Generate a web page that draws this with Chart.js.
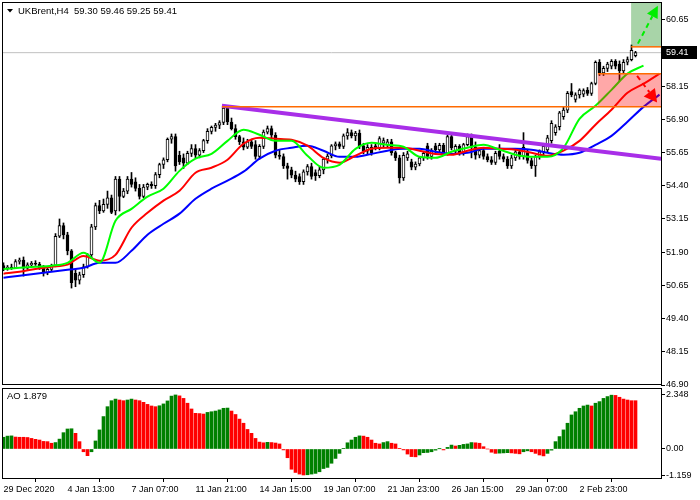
<!DOCTYPE html>
<html>
<head>
<meta charset="utf-8">
<title>UKBrent H4</title>
<script src="https://cdn.jsdelivr.net/npm/chart.js@4.4.1/dist/chart.umd.min.js"></script>
<style>
  html, body { margin: 0; padding: 0; background: #ffffff; }
  #wrap { position: relative; width: 700px; height: 500px; }
  #wrap canvas { position: absolute; left: 0; top: 0; }
</style>
</head>
<body>
<div id="wrap">
  <canvas id="priceChart" width="700" height="500"></canvas>
  <canvas id="aoChart" width="700" height="500"></canvas>
</div>
<script>
// ---- data (bar index 0 = 29 Dec 2020 00:00, H4 bars) ----
const timeLabels = ['29 Dec 2020', '4 Jan 13:00', '7 Jan 07:00', '11 Jan 21:00', '14 Jan 15:00',
  '19 Jan 07:00', '21 Jan 23:00', '26 Jan 15:00', '29 Jan 07:00', '2 Feb 23:00'];
const timeTickBars = [0, 16, 32, 48, 64, 80, 96, 112, 128, 144];

const opens = [
  51.40, 51.28, 51.34, 51.30, 51.55, 51.60, 51.30, 51.42, 51.48, 51.45,
  51.30, 51.12, 51.25, 51.40, 52.50, 52.90, 52.55, 51.95, 51.10, 50.85,
  51.05, 51.35, 51.80, 52.85, 53.65, 53.45, 53.70, 53.95, 53.45, 54.65,
  54.00, 54.20, 54.65, 54.55, 54.30, 54.00, 54.35, 54.45, 54.40, 54.82,
  55.20, 55.38, 56.15, 56.25, 55.55, 55.45, 55.25, 55.62, 55.80, 55.55,
  55.72, 56.10, 56.45, 56.60, 56.68, 56.78, 57.32, 56.80, 56.55, 56.25,
  56.05, 55.85, 56.05, 55.95, 55.50, 55.88, 56.42, 56.55, 56.30, 55.55,
  55.50, 55.15, 55.00, 54.80, 54.75, 54.55, 54.92, 55.12, 54.90, 54.78,
  55.00, 55.40, 55.52, 55.90, 55.98, 55.88, 56.28, 56.40, 56.28, 56.38,
  55.90, 55.70, 55.85, 55.90, 55.82, 56.00, 55.95, 56.05, 55.65, 55.45,
  54.70, 55.45, 55.30, 55.10, 55.22, 55.45, 55.90, 55.50, 55.90, 55.75,
  55.92, 55.60, 56.25, 55.70, 55.88, 55.65, 55.95, 56.25, 55.85, 55.55,
  55.72, 55.50, 55.38, 55.28, 55.70, 55.50, 55.40, 55.15, 55.45, 55.68,
  55.50, 55.65, 55.35, 55.15, 55.50, 55.68, 55.75, 56.10, 56.40, 56.62,
  57.00, 57.25, 57.95, 57.65, 57.82, 57.85, 58.00, 57.88, 58.25, 59.05,
  58.65, 58.82, 58.90, 59.08, 58.98, 58.72, 59.05, 59.15, 59.30
];
const highs = [
  51.50, 51.40, 51.45, 51.62, 51.68, 51.72, 51.50, 51.55, 51.58, 51.52,
  51.40, 51.30, 51.45, 52.60, 53.15, 53.00, 52.65, 52.00, 51.25, 51.15,
  51.45, 51.85, 52.95, 53.75, 53.85, 53.90, 54.20, 54.05, 54.75, 54.75,
  54.30, 54.75, 54.90, 54.70, 54.45, 54.45, 54.50, 54.55, 54.90, 55.25,
  55.45, 56.20, 56.35, 56.35, 55.70, 55.60, 55.70, 55.95, 55.95, 55.80,
  56.15, 56.55, 56.65, 56.75, 56.85, 57.40, 57.42, 56.95, 56.70, 56.30,
  56.20, 56.15, 56.15, 56.10, 55.95, 56.50, 56.65, 56.65, 56.40, 55.75,
  55.60, 55.25, 55.10, 54.95, 54.85, 55.00, 55.20, 55.25, 55.00, 55.10,
  55.45, 55.60, 55.95, 56.05, 56.05, 56.35, 56.55, 56.50, 56.45, 56.50,
  56.00, 55.95, 55.95, 56.00, 56.25, 56.20, 56.15, 56.15, 55.70, 55.55,
  55.65, 55.70, 55.40, 55.30, 55.50, 55.70, 56.00, 55.80, 56.00, 56.00,
  56.00, 56.30, 56.35, 55.95, 55.95, 56.00, 56.35, 56.35, 56.05, 55.80,
  55.80, 55.60, 55.50, 55.70, 55.95, 55.60, 55.50, 55.55, 55.75, 55.75,
  56.40, 55.75, 55.45, 55.55, 55.75, 55.95, 56.30, 56.85, 56.70, 57.20,
  57.35, 57.95, 58.25, 57.90, 58.05, 58.05, 58.10, 58.30, 59.10, 59.15,
  58.90, 59.05, 59.15, 59.15, 59.10, 59.15, 59.25, 59.70, 59.46
];
const lows = [
  51.20, 51.22, 51.25, 51.28, 51.45, 51.00, 51.25, 51.35, 51.40, 51.25,
  51.00, 51.05, 51.20, 51.35, 52.45, 52.40, 51.80, 50.55, 50.60, 50.70,
  50.95, 51.30, 51.70, 52.75, 53.35, 53.40, 53.55, 53.35, 53.30, 53.45,
  53.95, 54.10, 54.35, 54.20, 53.90, 53.95, 54.25, 54.30, 54.30, 54.70,
  55.05, 55.30, 56.00, 54.95, 55.20, 55.05, 55.20, 55.50, 55.45, 55.45,
  55.65, 56.00, 56.35, 56.45, 56.55, 56.70, 56.70, 56.50, 56.15, 55.95,
  55.75, 55.80, 55.80, 55.40, 55.40, 55.80, 56.35, 56.20, 55.45, 55.40,
  55.05, 54.65, 54.70, 54.55, 54.45, 54.45, 54.80, 54.65, 54.60, 54.70,
  54.85, 55.25, 55.45, 55.75, 55.80, 55.80, 56.15, 56.20, 56.10, 55.80,
  55.60, 55.60, 55.55, 55.75, 55.75, 55.85, 55.85, 55.55, 55.35, 54.50,
  54.60, 55.35, 55.00, 55.00, 55.15, 55.35, 55.40, 55.40, 55.65, 55.65,
  55.55, 55.55, 55.75, 55.60, 55.55, 55.55, 55.90, 55.45, 55.40, 55.45,
  55.40, 55.30, 55.20, 55.20, 55.40, 55.30, 55.05, 55.05, 55.35, 55.40,
  55.40, 55.25, 55.05, 54.75, 55.40, 55.55, 55.65, 56.00, 56.30, 56.50,
  56.90, 57.15, 57.75, 57.55, 57.70, 57.75, 57.80, 57.80, 58.20, 58.55,
  58.55, 58.70, 58.80, 58.80, 58.35, 58.65, 58.95, 59.10, 59.25
];
const closes = [
  51.28, 51.34, 51.30, 51.55, 51.60, 51.30, 51.42, 51.48, 51.45, 51.30,
  51.12, 51.25, 51.40, 52.50, 52.90, 52.55, 51.95, 50.75, 50.85, 51.05,
  51.35, 51.80, 52.85, 53.65, 53.45, 53.70, 53.95, 53.40, 54.65, 54.00,
  54.20, 54.65, 54.45, 54.30, 54.00, 54.35, 54.45, 54.40, 54.82, 55.20,
  55.38, 56.15, 56.25, 55.15, 55.30, 55.25, 55.62, 55.80, 55.55, 55.72,
  56.10, 56.45, 56.60, 56.68, 56.78, 57.32, 56.80, 56.55, 56.25, 56.05,
  55.85, 56.05, 55.88, 55.50, 55.88, 56.42, 56.55, 56.30, 55.55, 55.50,
  55.15, 55.05, 54.80, 54.65, 54.55, 54.92, 55.12, 54.75, 54.78, 55.00,
  55.40, 55.52, 55.90, 55.98, 55.88, 56.28, 56.40, 56.28, 56.38, 55.90,
  55.70, 55.85, 55.65, 55.82, 56.18, 56.10, 56.05, 55.65, 55.45, 54.70,
  55.55, 55.60, 55.10, 55.22, 55.45, 55.62, 55.50, 55.72, 55.75, 55.92,
  55.60, 56.25, 55.82, 55.88, 55.65, 55.95, 56.25, 55.85, 55.55, 55.72,
  55.50, 55.38, 55.28, 55.62, 55.50, 55.40, 55.15, 55.45, 55.68, 55.50,
  55.85, 55.35, 55.15, 55.50, 55.68, 55.88, 56.20, 56.75, 56.62, 57.15,
  57.25, 57.88, 57.82, 57.82, 58.00, 57.98, 57.88, 58.25, 59.05, 58.65,
  58.82, 58.98, 59.08, 58.90, 58.72, 59.05, 59.15, 59.50, 59.41
];

// Alligator lines, read every 4 bars
const maBars = [0, 4, 8, 12, 16, 20, 24, 28, 32, 36, 40, 44, 48, 52, 56, 60, 64, 68, 72, 76, 80,
  84, 88, 92, 96, 100, 104, 108, 112, 116, 120, 124, 128, 132, 136, 140, 144, 148, 152, 156, 160, 164];
const lips = [51.27, 51.31, 51.35, 51.39, 51.50, 51.88, 51.50, 53.08, 53.53, 53.99, 54.29, 54.96,
  55.42, 55.60, 56.09, 56.51, 56.32, 56.09, 56.09, 55.53, 55.08, 55.19, 55.79, 56.02, 55.94, 55.87,
  55.49, 55.45, 55.68, 55.83, 55.94, 55.76, 55.57, 55.49, 55.49, 55.83, 56.92, 57.41, 58.01, 58.62, 58.92];
const teeth = [51.09, 51.16, 51.27, 51.35, 51.43, 51.76, 51.58, 51.80, 52.82, 53.38, 53.84, 54.21,
  54.89, 55.08, 55.38, 55.98, 56.21, 56.17, 56.13, 55.91, 55.45, 55.27, 55.53, 55.79, 55.83, 55.83,
  55.72, 55.60, 55.57, 55.72, 55.83, 55.79, 55.76, 55.64, 55.53, 55.72, 56.09, 56.70, 57.26, 57.90, 58.24, 58.62];
const jaw = [50.94, 51.01, 51.09, 51.16, 51.24, 51.31, 51.50, 51.50, 51.95, 52.56, 52.97, 53.35,
  53.91, 54.29, 54.59, 54.93, 55.42, 55.72, 55.83, 55.91, 55.72, 55.49, 55.49, 55.60, 55.72, 55.79,
  55.79, 55.68, 55.60, 55.64, 55.79, 55.79, 55.79, 55.76, 55.64, 55.57, 55.64, 55.94, 56.28, 56.81, 57.37, 57.83];

const aoValues = [
  0.51, 0.56, 0.57, 0.52, 0.51, 0.51, 0.50, 0.46, 0.42, 0.39,
  0.33, 0.32, 0.25, 0.28, 0.43, 0.71, 0.87, 0.88, 0.68, 0.32,
  -0.12, -0.29, -0.12, 0.35, 0.83, 1.41, 1.84, 2.10, 2.17, 2.13,
  2.10, 2.13, 2.17, 2.13, 2.10, 2.03, 1.94, 1.87, 1.84, 1.88,
  1.96, 2.09, 2.30, 2.35, 2.31, 2.20, 1.99, 1.74, 1.55, 1.54,
  1.52, 1.59, 1.62, 1.65, 1.70, 1.77, 1.78, 1.65, 1.50, 1.30,
  1.12, 0.85, 0.68, 0.46, 0.30, 0.27, 0.29, 0.28, 0.26, 0.22,
  -0.04, -0.38, -0.88, -1.02, -1.09, -1.13, -1.12, -1.09, -1.06, -0.99,
  -0.85, -0.80, -0.62, -0.41, -0.19, 0.03, 0.27, 0.39, 0.51, 0.57,
  0.56, 0.51, 0.39, 0.25, 0.22, 0.28, 0.32, 0.25, 0.22, 0.03,
  -0.04, -0.22, -0.33, -0.34, -0.26, -0.16, -0.15, -0.12, -0.05, 0.01,
  -0.04, 0.07, 0.17, 0.13, 0.16, 0.20, 0.22, 0.28, 0.27, 0.25,
  0.10, 0.00, -0.14, -0.19, -0.18, -0.17, -0.16, -0.17, -0.19, -0.21,
  -0.12, -0.08, -0.12, -0.19, -0.26, -0.30, -0.19, -0.05, 0.32, 0.54,
  0.83, 1.12, 1.48, 1.62, 1.77, 1.87, 1.91, 1.87, 1.99, 2.06,
  2.20, 2.28, 2.34, 2.33, 2.25, 2.17, 2.13, 2.10, 2.10
];

const priceTicks = [60.65, 58.15, 56.90, 55.65, 54.40, 53.15, 51.90, 50.65, 49.40, 48.15, 46.90];
const aoTicks = [2.348, 0, -1.159];
const aoTickLabels = ['2.348', '0.00', '-1.159'];
const lastPrice = 59.41;
const symbolText = 'UKBrent,H4';
const ohlcText = '59.30 59.46 59.25 59.41';
const aoText = 'AO 1.879';

// drawn objects, in [bar, price]
const trendLine = [[54.6, 57.41], [164.4, 55.42]];
const supportLine = [[54.6, 57.37], [164.4, 57.37]];
const sellTopLine = [[148.6, 58.62], [164.4, 58.62]];
const buyBottomLine = [[156.9, 59.63], [164.4, 59.63]];
const sellBox = [[148.6, 57.37], [164.4, 58.62]];
const buyBox = [[156.9, 59.63], [164.4, 61.28]];
const upArrow = [[158.6, 59.75], [163.6, 61.18]];
const downArrow = [[158.4, 58.54], [163.4, 57.53]];

// ---- scale ranges ----
const xMin = -0.375, xMax = 164.375;
const priceMin = 46.90, priceMax = 61.28;
const aoMin = -1.261, aoMax = 2.652;

Chart.defaults.font.family = "'Liberation Sans', Arial, sans-serif";
Chart.defaults.font.size = 9;
Chart.defaults.color = '#000000';

const pts = (pairs) => pairs.map(p => ({ x: p[0], y: p[1] }));
const maPoints = (vals) => vals.map((v, k) => ({ x: maBars[k], y: v }));

const tickGrid = { display: true, drawOnChartArea: false, drawTicks: true, tickLength: 4, color: '#000000' };

function fixYAxis(scale) {
  scale.width = 39;
  scale.paddingTop = 0;
  scale.paddingBottom = 0;
}

const TREND_INDEX = 6;

function boxRect(chart, box, color) {
  const { ctx, scales: { x, y } } = chart;
  const x0 = x.getPixelForValue(box[0][0]), x1 = x.getPixelForValue(box[1][0]);
  const y0 = y.getPixelForValue(box[0][1]), y1 = y.getPixelForValue(box[1][1]);
  ctx.fillStyle = color;
  ctx.fillRect(Math.min(x0, x1), Math.min(y0, y1), Math.abs(x1 - x0), Math.abs(y1 - y0));
}

function arrow(chart, line, color, head, half) {
  const { ctx, scales: { x, y } } = chart;
  const x0 = x.getPixelForValue(line[0][0]), y0 = y.getPixelForValue(line[0][1]);
  const x1 = x.getPixelForValue(line[1][0]), y1 = y.getPixelForValue(line[1][1]);
  const a = Math.atan2(y1 - y0, x1 - x0);
  const c = Math.cos(a), s = Math.sin(a);
  ctx.strokeStyle = color;
  ctx.lineWidth = 2;
  ctx.setLineDash([5, 4]);
  ctx.beginPath();
  ctx.moveTo(x0, y0);
  ctx.lineTo(x1 - head * c, y1 - head * s);
  ctx.stroke();
  ctx.setLineDash([]);
  ctx.fillStyle = color;
  ctx.beginPath();
  ctx.moveTo(x1, y1);
  ctx.lineTo(x1 - head * c + half * s, y1 - head * s - half * c);
  ctx.lineTo(x1 - head * c - half * s, y1 - head * s + half * c);
  ctx.closePath();
  ctx.fill();
}

const boxesPlugin = {
  id: 'boxes',
  afterDatasetDraw(chart, args) {
    if (args.index !== TREND_INDEX) return;
    const { ctx, chartArea } = chart;
    ctx.save();
    ctx.beginPath();
    ctx.rect(chartArea.left, chartArea.top, chartArea.width, chartArea.height);
    ctx.clip();
    boxRect(chart, sellBox, 'rgba(255, 0, 0, 0.34)');
    boxRect(chart, buyBox, 'rgba(0, 128, 0, 0.34)');
    ctx.restore();
  },
  afterDatasetsDraw(chart) {
    const { ctx, chartArea } = chart;
    ctx.save();
    ctx.beginPath();
    ctx.rect(chartArea.left, chartArea.top, chartArea.width, chartArea.height);
    ctx.clip();
    arrow(chart, upArrow, '#00ee00', 12, 6);
    arrow(chart, downArrow, '#ff0000', 13, 7);
    ctx.restore();
  }
};

const priceFrame = {
  id: 'priceFrame',
  afterDraw(chart) {
    const { ctx, chartArea, scales: { y } } = chart;
    ctx.save();
    ctx.strokeStyle = '#000000';
    ctx.lineWidth = 1;
    ctx.strokeRect(chartArea.left + 0.5, chartArea.top - 0.5, chartArea.width, chartArea.height);
    // symbol header
    ctx.fillStyle = '#000000';
    ctx.beginPath();
    ctx.moveTo(7, 9); ctx.lineTo(13, 9); ctx.lineTo(10, 12.5);
    ctx.closePath();
    ctx.fill();
    ctx.font = "9.5px 'Liberation Sans', Arial, sans-serif";
    ctx.textBaseline = 'middle';
    ctx.textAlign = 'left';
    ctx.fillText(symbolText, 18, 11);
    ctx.fillText(ohlcText, 74, 11);
    // last price label on the axis
    const py = Math.round(y.getPixelForValue(lastPrice));
    ctx.fillStyle = '#000000';
    ctx.fillRect(chartArea.right + 1, py - 7, 35, 13);
    ctx.fillStyle = '#ffffff';
    ctx.font = "9px 'Liberation Sans', Arial, sans-serif";
    ctx.fillText(lastPrice.toFixed(2), chartArea.right + 5, py);
    ctx.restore();
  }
};

const wickData = highs.map((h, i) => ({ x: i, y: [lows[i], h] }));
const bodyData = opens.map((o, i) => ({ x: i, y: [o, closes[i]] }));
const bodyColors = opens.map((o, i) => (closes[i] >= o ? '#ffffff' : '#000000'));

new Chart(document.getElementById('priceChart'), {
  type: 'bar',
  data: {
    datasets: [
      { type: 'line', data: pts([[xMin, lastPrice], [xMax, lastPrice]]), borderColor: '#c0c0c0',
        borderWidth: 1, pointRadius: 0, order: 9 },
      { type: 'bar', data: wickData, backgroundColor: '#000000', barThickness: 1, grouped: false, order: 8 },
      { type: 'bar', data: bodyData, backgroundColor: bodyColors, borderColor: '#000000', borderWidth: 1,
        borderSkipped: false, barThickness: 3, grouped: false, order: 7 },
      { type: 'line', data: maPoints(jaw), borderColor: '#0000ff', borderWidth: 2, pointRadius: 0,
        cubicInterpolationMode: 'monotone', order: 6 },
      { type: 'line', data: maPoints(teeth), borderColor: '#ff0000', borderWidth: 2, pointRadius: 0,
        cubicInterpolationMode: 'monotone', order: 5 },
      { type: 'line', data: maPoints(lips), borderColor: '#00ff00', borderWidth: 2, pointRadius: 0,
        cubicInterpolationMode: 'monotone', order: 4 },
      { type: 'line', data: pts(trendLine), borderColor: '#a82ee8', borderWidth: 4, pointRadius: 0, order: 3 },
      { type: 'line', data: pts(supportLine), borderColor: '#ff6a00', borderWidth: 1.5, pointRadius: 0, order: 2 },
      { type: 'line', data: pts(sellTopLine), borderColor: '#ff6a00', borderWidth: 1.5, pointRadius: 0, order: 1 },
      { type: 'line', data: pts(buyBottomLine), borderColor: '#ff6a00', borderWidth: 1.5, pointRadius: 0, order: 0 }
    ]
  },
  options: {
    responsive: false,
    animation: false,
    events: [],
    layout: { padding: { left: 2, top: 3, right: 0, bottom: 115 } },
    plugins: { legend: { display: false }, tooltip: { enabled: false } },
    scales: {
      x: { type: 'linear', min: xMin, max: xMax, offset: false, display: false },
      y: {
        position: 'right', min: priceMin, max: priceMax,
        grid: tickGrid,
        border: { display: false },
        afterBuildTicks: (scale) => { scale.ticks = priceTicks.map(v => ({ value: v })); },
        afterFit: fixYAxis,
        ticks: { padding: 1, callback: (v) => Number(v).toFixed(2) }
      }
    }
  },
  plugins: [boxesPlugin, priceFrame]
});

// ---- Awesome Oscillator panel ----
const aoColors = [];
aoValues.forEach((v, i) => {
  if (i === 0) { aoColors.push('#008000'); return; }
  const prev = aoValues[i - 1];
  if (v > prev) aoColors.push('#008000');
  else if (v < prev) aoColors.push('#ff0000');
  else aoColors.push(aoColors[i - 1]);
});

const aoFrame = {
  id: 'aoFrame',
  afterDraw(chart) {
    const { ctx, chartArea } = chart;
    ctx.save();
    ctx.strokeStyle = '#000000';
    ctx.lineWidth = 1;
    ctx.strokeRect(chartArea.left + 0.5, chartArea.top + 0.5, chartArea.width, chartArea.height);
    ctx.fillStyle = '#000000';
    ctx.font = "9.5px 'Liberation Sans', Arial, sans-serif";
    ctx.textBaseline = 'middle';
    ctx.fillText(aoText, 7, chartArea.top + 8);
    ctx.restore();
  }
};

new Chart(document.getElementById('aoChart'), {
  type: 'bar',
  data: {
    datasets: [{
      data: aoValues.map((v, i) => ({ x: i, y: v })),
      backgroundColor: aoColors,
      barThickness: 3,
      grouped: false
    }]
  },
  options: {
    responsive: false,
    animation: false,
    events: [],
    layout: { padding: { left: 2, top: 388, right: 0, bottom: 0 } },
    plugins: { legend: { display: false }, tooltip: { enabled: false } },
    scales: {
      x: {
        type: 'linear', min: xMin, max: xMax, offset: false,
        grid: tickGrid,
        border: { display: false },
        afterBuildTicks: (scale) => { scale.ticks = timeTickBars.map(v => ({ value: v })); },
        afterFit: (scale) => { scale.height = 22; scale.paddingLeft = 0; scale.paddingRight = 0; },
        ticks: { align: 'start', autoSkip: false, maxRotation: 0, padding: 2,
          callback: (v, idx) => timeLabels[idx] }
      },
      y: {
        position: 'right', min: aoMin, max: aoMax,
        grid: tickGrid,
        border: { display: false },
        afterBuildTicks: (scale) => { scale.ticks = aoTicks.map(v => ({ value: v })); },
        afterFit: fixYAxis,
        ticks: { padding: 1, callback: (v, idx) => aoTickLabels[idx] }
      }
    }
  },
  plugins: [aoFrame]
});
</script>
</body>
</html>
